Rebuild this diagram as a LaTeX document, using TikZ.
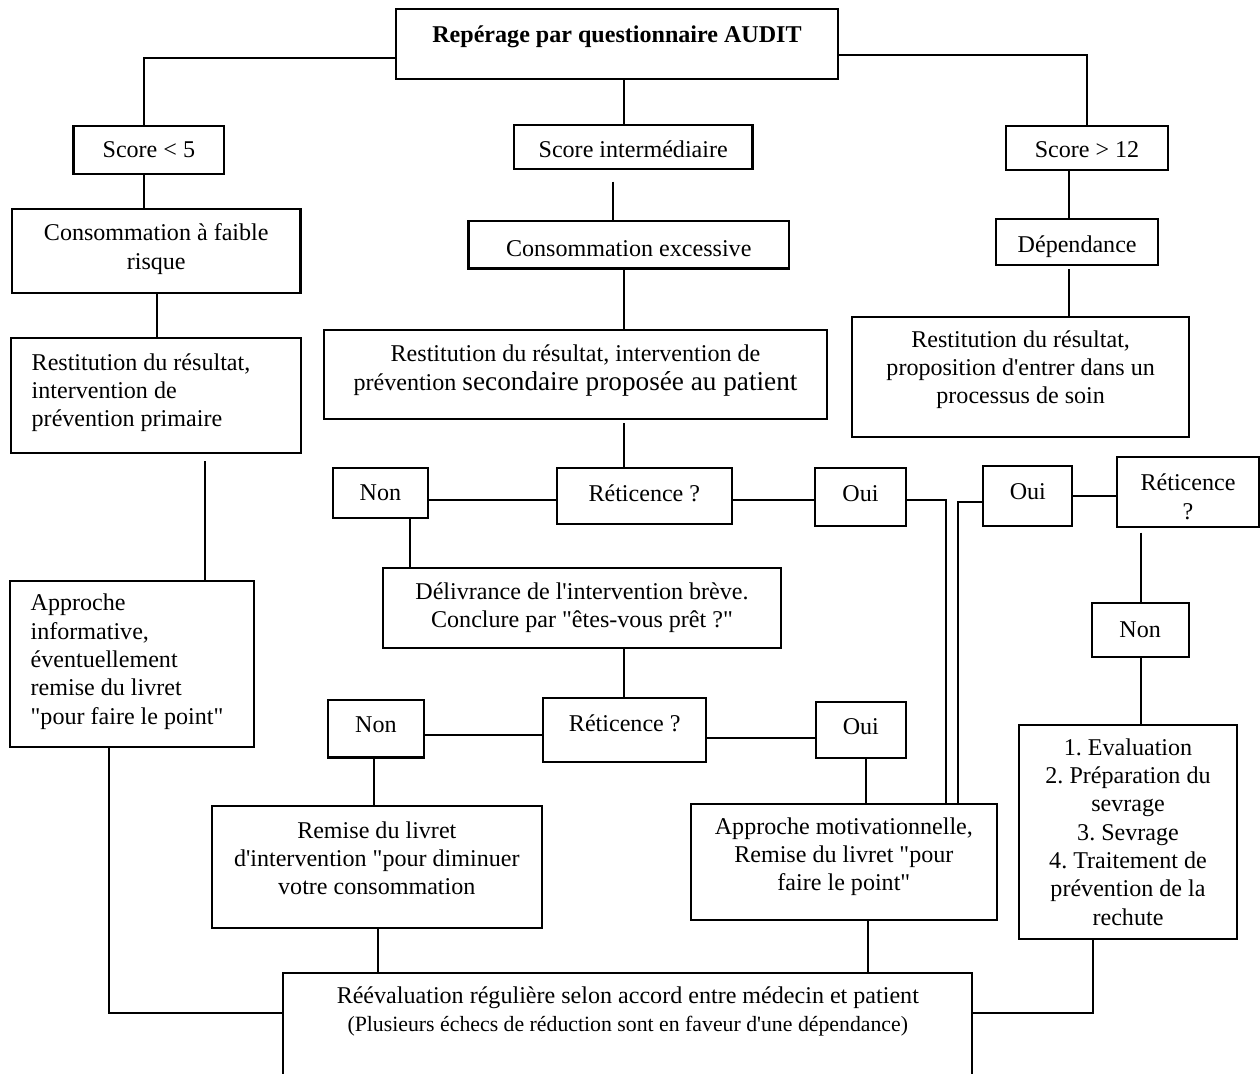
\documentclass[tikz,border=0pt]{standalone}
\usepackage{fontspec}
\newfontfamily\tms{Liberation Serif}
\newdimen\pxu \pxu=0.02cm
% name, x1, y1, x2, y2, alignment, text width (px), vertical shift (px, up), text
\newcommand\bx[9]{%
  \node[box,minimum width={(#4-#2)*0.02cm},minimum height={(#5-#3)*0.02cm}] (#1) at ({(#2+#4)/2},{(#3+#5)/2})
  {\raisebox{\dimexpr #8\pxu-3.5pt\relax}[0pt][0pt]{\parbox{#7\pxu}{#6 #9}}};}
\frenchspacing
\begin{document}
\begin{tikzpicture}[x=0.02cm,y=-0.02cm,
  box/.style={draw, line width=1.2pt, inner sep=0pt, outer sep=0pt, font=\tms\fontsize{13.7}{16.1}\selectfont},
  conn/.style={line width=1.1pt}]
\clip (0,0) rectangle (1260,1073);
\fill[white] (0,0) rectangle (1260,1073);

\bx{top}{396}{9.3}{838}{79.3}{\centering}{442}{7}{\textbf{Repérage par questionnaire AUDIT}}
\bx{scfive}{73.5}{125.7}{224.2}{173.7}{\centering}{150.7}{0}{Score < 5}
\bx{scint}{513.9}{125}{752.5}{168.7}{\centering}{238.6}{-3}{Score intermédiaire}
\bx{sctwelve}{1005.6}{125.7}{1168.4}{170}{\centering}{162.8}{-2}{Score > 12}
\bx{cfaible}{12}{209.3}{300.5}{293.3}{\centering}{288.5}{2}{Consommation à faible\\risque}
\bx{cexc}{468.5}{220.7}{789}{268.5}{\centering}{320.5}{-4}{Consommation excessive}
\bx{dep}{996}{218.7}{1158.3}{265}{\centering}{162.3}{-5}{Dépendance}
\bx{resL}{11}{338.3}{300.7}{453.3}{\raggedright}{248.3}{3}{Restitution du résultat,\\intervention de\\prévention primaire}
\bx{resM}{324.1}{330}{826.9}{419.3}{\centering}{502.8}{4}{Restitution du résultat, intervention de\\prévention {\fontsize{15.5}{16.1}\selectfont secondaire proposée au patient}}
\bx{resR}{852.3}{316.7}{1189}{436.7}{\centering}{336.7}{6.7}{Restitution du résultat,\\proposition d'entrer dans un\\processus de soin}
\bx{appI}{10}{581}{254.3}{746.7}{\raggedright}{203}{2}{Approche\\informative,\\éventuellement\\remise du livret\\"pour faire le point"}
\bx{nonA}{333}{467.7}{427.7}{517.7}{\centering}{94.7}{0}{Non}
\bx{retA}{557}{467.7}{731.6}{524}{\centering}{174.6}{2}{Réticence ?}
\bx{ouiA}{815}{467.7}{906}{526}{\centering}{91}{3}{Oui}
\bx{ouiB}{983.3}{465.7}{1072.3}{525.7}{\centering}{89}{4}{Oui}
\bx{retB}{1116.7}{457}{1259.3}{526.7}{\centering}{142.6}{-5}{Réticence\\?}
\bx{nonB}{1091.7}{602.7}{1188.7}{657.3}{\centering}{97}{0}{Non}
\bx{deliv}{383}{567.7}{781}{647.7}{\centering}{398}{0}{Délivrance de l'intervention brève.\\Conclure par "êtes-vous prêt ?"}
\bx{nonC}{327.6}{700}{424.2}{757.5}{\centering}{96.6}{4}{Non}
\bx{retC}{543.3}{697.7}{706.2}{761.7}{\centering}{162.9}{6.5}{Réticence ?}
\bx{ouiC}{815.6}{701.7}{906.1}{757.7}{\centering}{90.5}{3}{Oui}
\bx{remise}{212}{805.7}{541.6}{927.7}{\centering}{329.6}{8.4}{Remise du livret\\d'intervention "pour diminuer\\votre consommation}
\bx{motiv}{691}{804}{996.7}{920}{\centering}{305.7}{5.3}{Approche motivationnelle,\\Remise du livret "pour\\faire le point"}
\bx{liste}{1019.3}{725}{1236.7}{939.3}{\centering}{217.4}{0}{1. Evaluation\\2. Préparation du\\sevrage\\3. Sevrage\\4. Traitement de\\prévention de la\\rechute}
\bx{reeval}{283.3}{973.3}{972.3}{1100}{\centering}{689}{25}{Réévaluation régulière selon accord entre médecin et patient\\{\fontsize{12.4}{15}\selectfont (Plusieurs échecs de réduction sont en faveur d'une dépendance)}}

\draw[conn] (top.west |- 0,57.7) -| (scfive.north -| 143.8,0);
\draw[conn] (top.east |- 0,55) -| (sctwelve.north);
\draw[conn] (top.south -| 624,0) -- (scint.north -| 624,0);
\draw[conn] (scfive.south -| 143.8,0) -- (cfaible.north -| 143.8,0);
\draw[conn] (cfaible.south -| 156.7,0) -- (resL.north -| 156.7,0);
\draw[conn] (resL.south -| 205,0) ++(0,8) -- (appI.north -| 205,0);
\draw[conn] (sctwelve.south -| 1068.7,0) -- (dep.north -| 1068.7,0);
\draw[conn] (scint.south -| 612.7,0) ++(0,13) -- (cexc.north -| 612.7,0);
\draw[conn] (cexc.south -| 623.7,0) -- (resM.north -| 623.7,0);
\draw[conn] (dep.south -| 1069,0) ++(0,4) -- (resR.north -| 1069,0);
\draw[conn] (resM.south -| 623.7,0) ++(0,4) -- (retA.north -| 623.7,0);
\draw[conn] (nonA.east |- 0,500) -- (retA.west |- 0,500);
\draw[conn] (retA.east |- 0,500) -- (ouiA.west |- 0,500);
\draw[conn] (ouiA.east |- 0,500) -| (motiv.north -| 946,0);
\draw[conn] (ouiB.west |- 0,501.7) -| (motiv.north -| 957.7,0);
\draw[conn] (ouiB.east |- 0,495.7) -- (retB.west |- 0,495.7);
\draw[conn] (retB.south -| 1141,0) ++(0,6) -- (nonB.north -| 1141,0);
\draw[conn] (nonB.south -| 1141,0) -- (liste.north -| 1141,0);
\draw[conn] (nonA.south -| 410.3,0) -- (deliv.north -| 410.3,0);
\draw[conn] (deliv.south -| 624,0) -- (retC.north -| 624,0);
\draw[conn] (nonC.east |- 0,735) -- (retC.west |- 0,735);
\draw[conn] (retC.east |- 0,737.7) -- (ouiC.west |- 0,737.7);
\draw[conn] (nonC.south -| 374,0) -- (remise.north -| 374,0);
\draw[conn] (ouiC.south -| 866,0) -- (motiv.north -| 866,0);
\draw[conn] (remise.south -| 378,0) -- (reeval.north -| 378,0);
\draw[conn] (motiv.south -| 867.7,0) -- (reeval.north -| 867.7,0);
\draw[conn] (appI.south -| 108.7,0) |- (reeval.west |- 0,1013.3);
\draw[conn] (liste.south -| 1093.3,0) |- (reeval.east |- 0,1013.3);
\end{tikzpicture}
\end{document}
